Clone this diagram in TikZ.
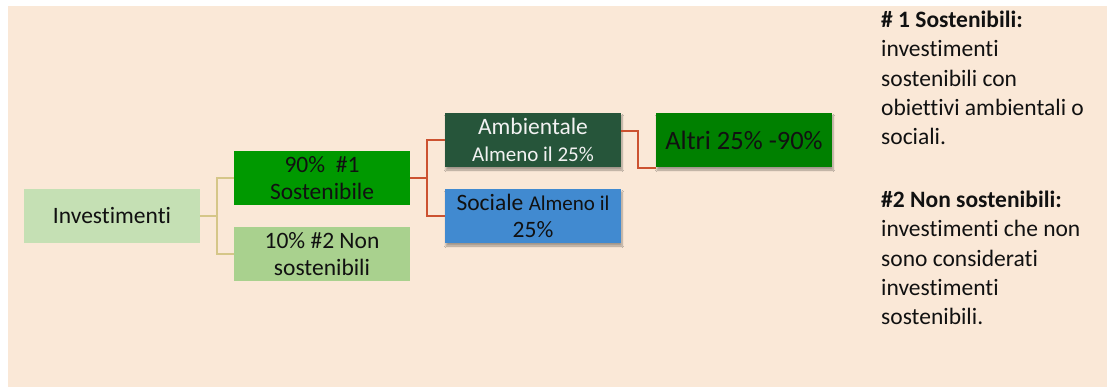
\documentclass[tikz,border=0pt]{standalone}
\usepackage{fontspec}
\setmainfont{Carlito}[Ligatures=NoCommon]
\usetikzlibrary{calc,shadows.blur}
\definecolor{bgbeige}{HTML}{FAE8D7}
\definecolor{invcol}{HTML}{C5E0B4}
\definecolor{susgreen}{HTML}{009900}
\definecolor{nongreen}{HTML}{A9D18E}
\definecolor{ambcol}{HTML}{26553A}
\definecolor{soccol}{HTML}{418AD0}
\definecolor{altricol}{HTML}{008000}
\definecolor{tanline}{HTML}{D5C688}
\definecolor{redline}{HTML}{CC5230}
\definecolor{txt}{HTML}{111111}
\tikzset{
  box/.style={minimum width=176pt, minimum height=54pt, inner sep=0pt, align=center,
    text=txt, font=\fontsize{23.5}{27.5}\selectfont},
  shadowed/.style={blur shadow={shadow blur steps=6, shadow xshift=1pt, shadow yshift=-3pt, shadow opacity=35}},
  tanconn/.style={draw=tanline, line width=2.5pt},
  redconn/.style={draw=redline, line width=2.2pt},
  sidetext/.style={align=left, inner sep=0pt, text=txt, font=\fontsize{23.5}{29.2}\selectfont}
}
\newcommand{\smalltxt}[1]{{\fontsize{21}{27}\selectfont #1}}
\begin{document}
\begin{tikzpicture}[x=1pt, y=-1pt]
\useasboundingbox (0,0) rectangle (1113,387);
\fill[white] (0,0) rectangle (1113,387);
\fill[bgbeige] (8,6) rectangle (1107,387);

\node[box, fill=invcol] (inv) at (112,216) {Investimenti};
\node[box, fill=susgreen] (sus) at (322,178) {90\%\ \ \#1\\Sostenibile};
\node[box, fill=nongreen] (non) at (322,254) {10\% \#2 Non\\sostenibili};
\node[box, fill=ambcol, text=white!95!black, shadowed] (amb) at (533,140) {Ambientale\\\smalltxt{Almeno il 25\%}};
\node[box, fill=soccol, shadowed] (soc) at (533,216) {Sociale \smalltxt{Almeno il}\\[-1pt]25\%};
\node[box, fill=altricol, shadowed, font=\fontsize{26.5}{30}\selectfont] (altri) at (744,140) {Altri 25\% -90\%};

\draw[tanconn] (inv.east) -- ++(17,0) |- (sus.west);
\draw[tanconn] (inv.east) -- ++(17,0) |- (non.west);
\draw[redconn] (sus.east) -- ++(17,0) |- (amb.west);
\draw[redconn] (sus.east) -- ++(17,0) |- (soc.west);
\draw[redconn] ($(amb.east)+(0,-9)$) -- ++(17,0) |- ($(altri.south west)+(0,1)$);

\node[sidetext, anchor=north west] (legend) at (881,11) {\textbf{\# 1 Sostenibili:}\\investimenti\\sostenibili con\\obiettivi ambientali o\\sociali.\\[34pt]\textbf{\#2 Non sostenibili:}\\investimenti che non\\sono considerati\\investimenti\\sostenibili.};
\end{tikzpicture}
\end{document}
